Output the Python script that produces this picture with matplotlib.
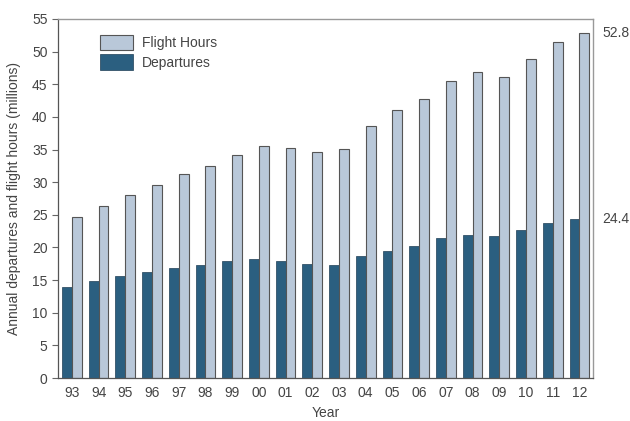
import numpy as np
import matplotlib
matplotlib.use('Agg')
import matplotlib.pyplot as plt

plt.rcParams['font.family'] = ['Liberation Sans', 'DejaVu Sans']

years = ['93', '94', '95', '96', '97', '98', '99', '00', '01', '02',
         '03', '04', '05', '06', '07', '08', '09', '10', '11', '12']
departures = [14.0, 14.9, 15.6, 16.3, 16.8, 17.3, 17.9, 18.3, 18.0, 17.5,
              17.3, 18.7, 19.5, 20.2, 21.5, 21.9, 21.7, 22.7, 23.7, 24.4]
flight_hours = [24.6, 26.3, 28.1, 29.6, 31.2, 32.5, 34.1, 35.6, 35.2, 34.6,
                35.1, 38.6, 41.0, 42.7, 45.5, 46.9, 46.1, 48.8, 51.4, 52.8]

dep_color = '#2b5f80'
fh_color = '#b9c8d9'
txt = '#444444'
fs = 10

fig = plt.figure(figsize=(6.3, 4.21), dpi=100)
ax = fig.add_axes([0.092, 0.102, 0.849, 0.853])

x = np.arange(len(years))
w = 0.37
ax.bar(x - w/2, departures, w, color=dep_color, edgecolor='#1f3f55', linewidth=0.5, label='Departures')
ax.bar(x + w/2, flight_hours, w, color=fh_color, edgecolor='#555555', linewidth=0.8, label='Flight Hours')

ax.set_xlim(-0.52, 19.5)
ax.set_ylim(0, 55)
ax.set_yticks(range(0, 56, 5))
ax.set_xticks(x)
ax.set_xticklabels(years)
ax.tick_params(axis='x', length=0, pad=6, labelsize=fs, colors=txt)
ax.tick_params(axis='y', length=4, width=0.8, color='#666666', labelsize=fs, colors=txt)

for side in ['top', 'right']:
    ax.spines[side].set_color('#999999')
    ax.spines[side].set_linewidth(1.0)
for side in ['left', 'bottom']:
    ax.spines[side].set_color('#555555')
    ax.spines[side].set_linewidth(0.9)

ax.set_xlabel('Year', fontsize=fs, color=txt, labelpad=4)
ax.set_ylabel('Annual departures and flight hours (millions)', fontsize=fs, color=txt, labelpad=8)

# end values at the right of the axes
for v in (flight_hours[-1], departures[-1]):
    ax.annotate(f'{v:.1f}', xy=(1.0, v), xycoords=('axes fraction', 'data'),
                xytext=(7, 0), textcoords='offset points', va='center', ha='left',
                fontsize=fs, color=txt)

handles, labels = ax.get_legend_handles_labels()
leg = ax.legend(handles[::-1], labels[::-1], loc='upper left', bbox_to_anchor=(0.055, 0.99),
                frameon=False, fontsize=fs, handlelength=2.4, handleheight=1.3,
                labelspacing=0.3, handletextpad=0.6)
for t in leg.get_texts():
    t.set_color(txt)

fig.savefig('out.png', dpi=100)
